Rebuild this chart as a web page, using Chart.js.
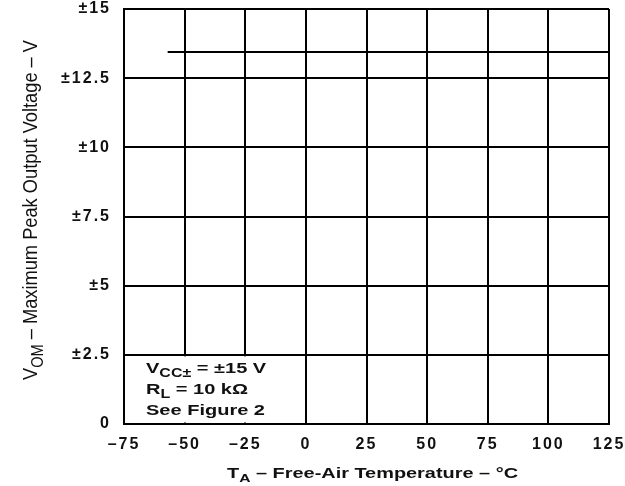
<!DOCTYPE html>
<html>
<head>
<meta charset="utf-8">
<script src="https://cdn.jsdelivr.net/npm/chart.js@4"></script>
<style>
  html, body { margin: 0; padding: 0; background: #fff; }
  canvas { display: block; }
</style>
</head>
<body>
<canvas id="chart" width="625" height="486"></canvas>
<script>
// axis ticks
const xTicks = [-75, -50, -25, 0, 25, 50, 75, 100, 125]
const xTickLabels = ["–75", "–50", "–25", "0", "25", "50", "75", "100", "125"]
const yTicks = [0, 2.5, 5, 7.5, 10, 12.5, 15]
const yTickLabels = ["0", "±2.5", "±5", "±7.5", "±10", "±12.5", "±15"]

// VOM vs free-air temperature
const temperature = [-57, 125]
const vomPeak = [13.45, 13.45]

// text runs: [text, isSubscript]
const xTitle = [["T", 0], ["A", 1], [" – Free-Air Temperature – °C", 0]]
const yTitle = [["V", 0], ["OM", 1], [" – Maximum Peak Output Voltage – V", 0]]
const noteLines = [
  [["V", 0], ["CC±", 1], [" = ±15 V", 0]],
  [["R", 0], ["L", 1], [" = 10 kΩ", 0]],
  [["See Figure 2", 0]]
]

const FAMILY = "'Liberation Sans', Arial, Helvetica, sans-serif"
const INK = "#111"

function runFont(size, weight, sub) {
  return `${weight} ${sub ? Math.round(size * 0.78) : size}px ${FAMILY}`
}

function runsWidth(ctx, runs, size, weight) {
  let w = 0
  for (const [s, sub] of runs) {
    ctx.font = runFont(size, weight, sub)
    w += ctx.measureText(s).width
  }
  return w
}

// draws runs starting at (0,0) in the current transform, stretched by k along the text
function drawRuns(ctx, runs, size, weight, k) {
  ctx.save()
  ctx.scale(k, 1)
  ctx.textAlign = "left"
  ctx.textBaseline = "alphabetic"
  ctx.fillStyle = INK
  let cx = 0
  for (const [s, sub] of runs) {
    ctx.font = runFont(size, weight, sub)
    ctx.fillText(s, cx, sub ? size * 0.3 : 0)
    cx += ctx.measureText(s).width
  }
  ctx.restore()
}

const spacing = {
  id: "spacing",
  beforeDraw(chart) {
    chart.ctx.letterSpacing = "2px"
  }
}

const extras = {
  id: "extras",
  afterDraw(chart) {
    const ctx = chart.ctx
    const xs = chart.scales.x
    const ys = chart.scales.y
    ctx.save()
    ctx.letterSpacing = "0px"

    // note box, white over the grid in the lower left cell block
    const bx0 = xs.getPixelForValue(-75)
    const bx1 = xs.getPixelForValue(0)
    const by0 = ys.getPixelForValue(2.5)
    const by1 = ys.getPixelForValue(0)
    ctx.fillStyle = "#fff"
    ctx.fillRect(bx0 + 1.5, by0 + 1.5, bx1 - bx0 - 3, by1 - by0 - 3)

    const noteSize = 15
    const k = 119 / runsWidth(ctx, noteLines[2], noteSize, "bold")
    noteLines.forEach((line, i) => {
      ctx.save()
      ctx.translate(bx0 + 22, by0 + 18 + i * 21)
      drawRuns(ctx, line, noteSize, "bold", k)
      ctx.restore()
    })

    // x axis title
    const xSize = 14
    const xw = runsWidth(ctx, xTitle, xSize, "bold")
    const xk = 291 / xw
    const cx = (chart.chartArea.left + chart.chartArea.right) / 2
    ctx.save()
    ctx.translate(cx - 291 / 2 + 6, 478)
    drawRuns(ctx, xTitle, xSize, "bold", xk)
    ctx.restore()

    // y axis title
    const ySize = 20
    const yw = runsWidth(ctx, yTitle, ySize, "normal")
    ctx.save()
    ctx.translate(37, 380)
    ctx.rotate(-Math.PI / 2)
    drawRuns(ctx, yTitle, ySize, "normal", 340 / yw)
    ctx.restore()

    ctx.restore()
  }
}

const tickFont = { family: FAMILY, size: 16, weight: "bold", lineHeight: 1 }

new Chart(document.getElementById("chart"), {
  type: "line",
  data: {
    datasets: [{
      data: temperature.map((t, i) => ({ x: t, y: vomPeak[i] })),
      borderColor: "#000",
      borderWidth: 2,
      pointRadius: 0,
      fill: false,
      tension: 0
    }]
  },
  options: {
    responsive: false,
    animation: false,
    devicePixelRatio: 1,
    layout: { padding: { top: 9, right: 16, left: 0, bottom: 0 } },
    plugins: {
      legend: { display: false },
      tooltip: { enabled: false }
    },
    scales: {
      x: {
        type: "linear",
        min: -75,
        max: 125,
        afterBuildTicks: (s) => { s.ticks = xTicks.map((v) => ({ value: v })) },
        afterFit: (s) => {
          s.height = 62
          s.paddingLeft = 0
          s.paddingRight = 0
        },
        ticks: {
          callback: (v) => xTickLabels[xTicks.indexOf(v)],
          font: tickFont,
          color: INK,
          padding: 13,
          maxRotation: 0,
          autoSkip: false
        },
        grid: { color: "#000", lineWidth: 2, drawTicks: false },
        border: { color: "#000", width: 2 }
      },
      y: {
        type: "linear",
        min: 0,
        max: 15,
        afterBuildTicks: (s) => { s.ticks = yTicks.map((v) => ({ value: v })) },
        afterFit: (s) => {
          s.width = 124
          s.paddingTop = 0
          s.paddingBottom = 0
        },
        ticks: {
          callback: (v) => yTickLabels[yTicks.indexOf(v)],
          font: tickFont,
          color: INK,
          padding: 13,
          autoSkip: false
        },
        grid: { color: "#000", lineWidth: 2, drawTicks: false },
        border: { color: "#000", width: 2 }
      }
    }
  },
  plugins: [spacing, extras]
})
</script>
</body>
</html>
